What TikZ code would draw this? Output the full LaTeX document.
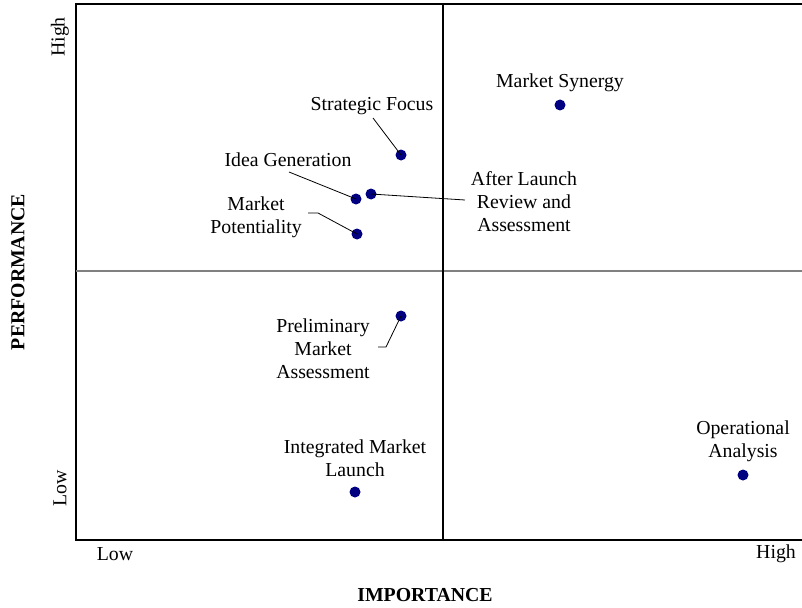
\documentclass[tikz,border=0pt]{standalone}
\usepackage{fontspec}
\setmainfont{Liberation Serif}
\definecolor{dotblue}{RGB}{0,0,128}
\definecolor{midgray}{RGB}{128,128,128}
\tikzset{
  dot/.style={circle,fill=dotblue,draw=none,minimum size=11pt,inner sep=0pt},
  lbl/.style={align=center,inner sep=0pt,font=\fontsize{19.8}{23}\selectfont},
  axlbl/.style={inner sep=0pt,font=\fontsize{19.8}{23}\selectfont},
  axtitle/.style={inner sep=0pt,font=\fontsize{19.8}{23}\selectfont\bfseries},
  leader/.style={draw=black,line width=0.8pt},
  frame/.style={draw=black,line width=2pt},
}
\begin{document}
\begin{tikzpicture}[x=1pt,y=-1pt]
\useasboundingbox (0,0) rectangle (802,607);
% frame
\coordinate (tl) at (76,4);
\coordinate (tr) at (802,4);
\coordinate (bl) at (76,540);
\coordinate (br) at (802,540);
\draw[frame] (tr) -- (tl) -- (bl) -- (br);
% dividers
\coordinate (vt) at (443,4);
\coordinate (vb) at (443,540);
\coordinate (hl) at (76,271);
\coordinate (hr) at (802,271);
\draw[midgray,line width=1.6pt] (hl) -- (hr);
\draw[black,line width=1.4pt] (vt) -- (vb);
% axis labels
\node[axlbl,rotate=90] (perfhigh) at (60,37) {High};
\node[axlbl,rotate=90] (perflow) at (60,488) {Low};
\node[axtitle,rotate=90] (perf) at (18,272) {PERFORMANCE};
\node[axlbl] (implow) at (115,554) {Low};
\node[axlbl] (imphigh) at (776,554) {High};
\node[axtitle] (imp) at (425,595) {IMPORTANCE};
% dots
\node[dot] (ms) at (560,105) {};
\node[dot] (sf) at (401,155) {};
\node[dot] (ig) at (356,199) {};
\node[dot] (al) at (371,194) {};
\node[dot] (mp) at (357,234) {};
\node[dot] (pm) at (401,316) {};
\node[dot] (im) at (355,492) {};
\node[dot] (oa) at (743,475) {};
% labels
\node[lbl] (msl) at (560,83) {Market Synergy};
\node[lbl] (sfl) at (372,106) {Strategic Focus};
\node[lbl] (igl) at (288,160) {Idea Generation};
\node[lbl] (all) at (524,202) {After Launch\\Review and\\Assessment};
\node[lbl] (mpl) at (256,217) {Market\\Potentiality};
\node[lbl] (pml) at (323,349) {Preliminary\\Market\\Assessment};
\node[lbl] (iml) at (355,458) {Integrated Market\\Launch};
\node[lbl] (oal) at (743,441) {Operational\\Analysis};
% leaders
\coordinate (sfa) at (373,118);
\coordinate (iga) at (289,172);
\coordinate (ala) at (465,200);
\coordinate (mpa) at (308,213);
\coordinate (mpb) at (318,213);
\coordinate (pma) at (378,347);
\coordinate (pmb) at (386,347);
\draw[leader] (sfa) -- (sf.center);
\draw[leader] (iga) -- (ig.center);
\draw[leader] (ala) -- (al.center);
\draw[leader] (mpa) -- (mpb) -- (mp.center);
\draw[leader] (pma) -- (pmb) -- (pm.center);
\end{tikzpicture}
\end{document}
